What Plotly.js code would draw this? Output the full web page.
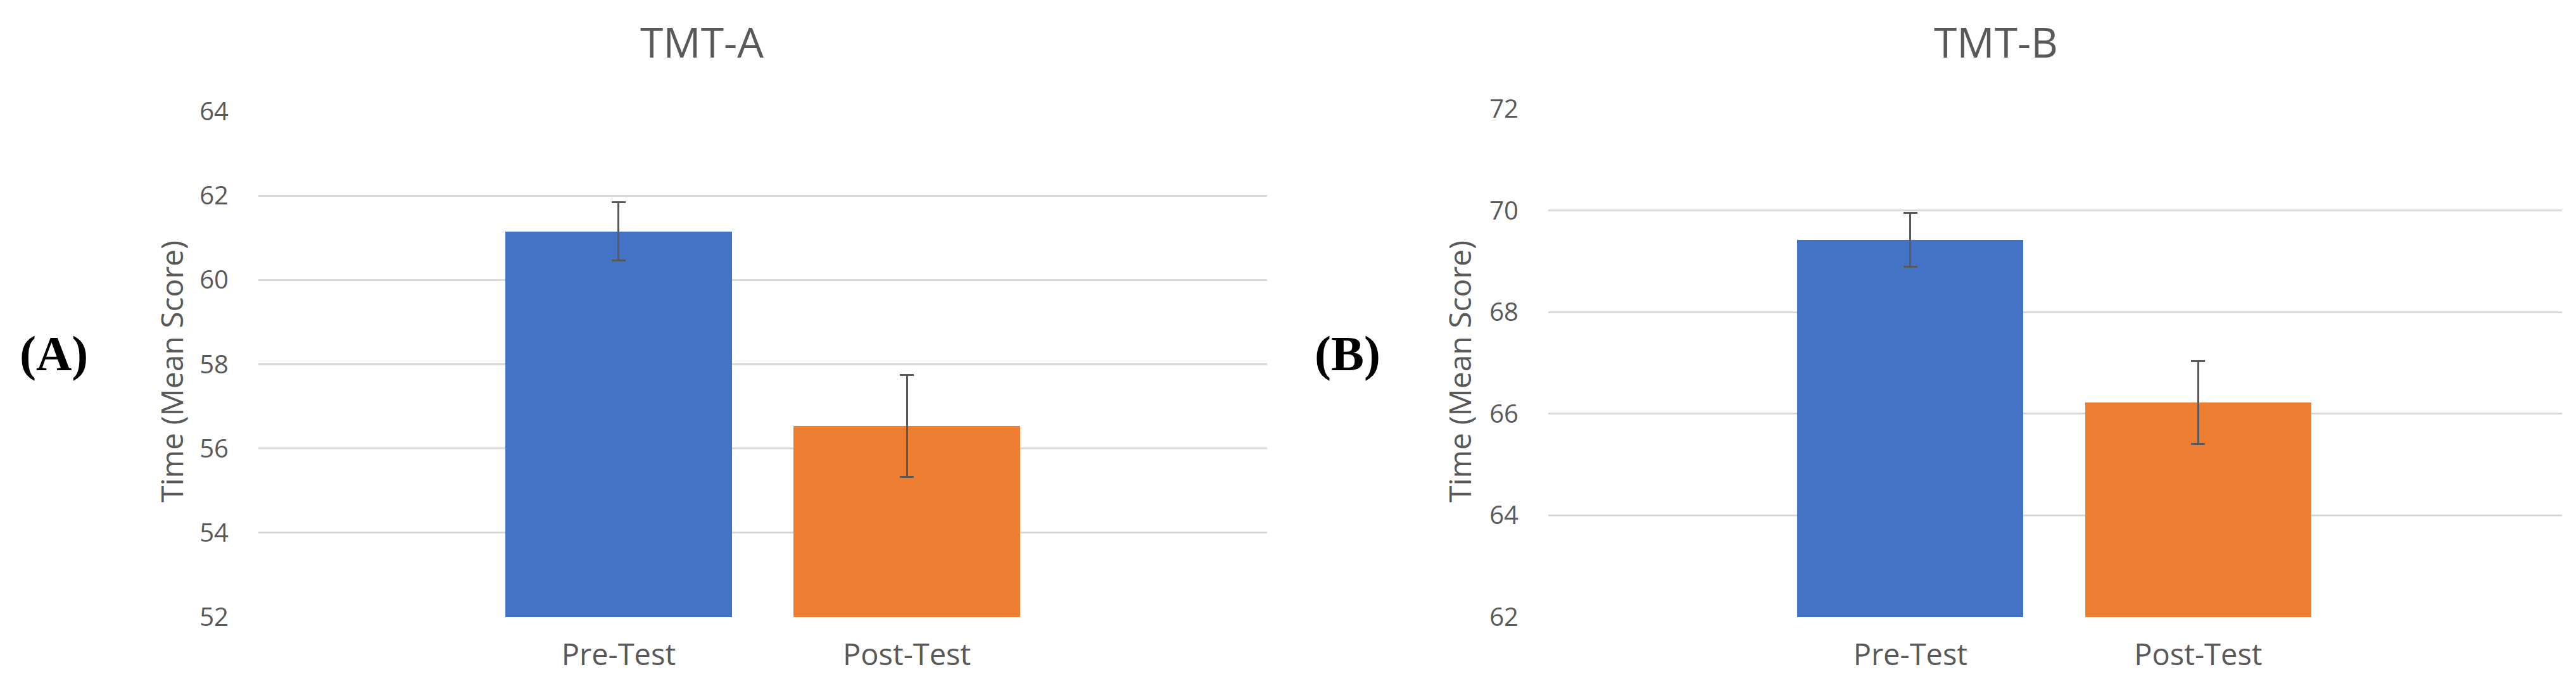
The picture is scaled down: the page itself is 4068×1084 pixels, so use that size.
<!DOCTYPE html>
<html>
<head>
<meta charset="utf-8">
<script src="https://cdn.plot.ly/plotly-3.0.1.min.js"></script>
<style>html,body{margin:0;padding:0;background:#fff;}#chart{width:4068px;height:1084px;}</style>
</head>
<body>
<div id="chart"></div>
<script>
const categories = ["Pre-Test", "Post-Test"];
const tmtAValues = [61.15, 56.53];
const tmtAErrors = [0.69, 1.21];
const tmtBValues = [69.42, 66.22];
const tmtBErrors = [0.53, 0.82];
const barColors = ["#4472C4", "#ED7D31"];
const panelTitles = ["TMT-A", "TMT-B"];
const panelLabels = ["(A)", "(B)"];
const yTitle = "Time (Mean Score)";
const tmtATicks = [52, 54, 56, 58, 60, 62, 64];
const tmtBTicks = [62, 64, 66, 68, 70, 72];

const W = 4068, H = 1084;
const textColor = "#595959";
const font = "Open Sans, sans-serif";

function barTrace(vals, errs, xa, ya) {
  return {
    type: "bar", x: categories, y: vals, xaxis: xa, yaxis: ya,
    width: 0.785,
    marker: {color: barColors, line: {width: 0}},
    error_y: {type: "data", array: errs, visible: true, color: "#595959", thickness: 3, width: 11},
    showlegend: false, hoverinfo: "skip"
  };
}

const traces = [
  barTrace(tmtAValues, tmtAErrors, "x", "y"),
  barTrace(tmtBValues, tmtBErrors, "x2", "y2")
];

function yAxis(range, ticks, anchor, domain) {
  return {
    range: range, tickvals: ticks, domain: domain, anchor: anchor,
    showgrid: true, gridcolor: "#d9d9d9", gridwidth: 3,
    zeroline: false, showline: false, ticks: "",
    ticklabelstandoff: 46,
    tickfont: {family: font, size: 40, color: textColor}
  };
}
function xAxis(range, domain, anchor) {
  return {
    type: "category", range: range, domain: domain, anchor: anchor,
    showgrid: false, zeroline: false, showline: false, ticks: "",
    ticklabelstandoff: 28,
    tickfont: {family: font, size: 47, color: textColor}
  };
}

const yDomA = [(H - 975) / H, (H - 176) / H];
const yDomB = [(H - 975) / H, (H - 172) / H];

const layout = {
  width: W, height: H,
  margin: {l: 0, r: 0, t: 0, b: 0},
  paper_bgcolor: "#fff", plot_bgcolor: "#fff",
  bargap: 0,
  xaxis: xAxis([-1.25, 2.25], [408 / W, 2001 / W], "y"),
  yaxis: yAxis([52, 64], tmtATicks, "x", yDomA),
  xaxis2: xAxis([-1.258, 2.264], [2445 / W, 4046 / W], "y2"),
  yaxis2: yAxis([62, 72], tmtBTicks, "x2", yDomB),
  annotations: [
    {text: panelTitles[0], x: 1108 / W, y: 1 - 65 / H, xref: "paper", yref: "paper", xanchor: "center", yanchor: "middle", showarrow: false, font: {family: font, size: 66, color: textColor}},
    {text: panelTitles[1], x: 3152 / W, y: 1 - 65 / H, xref: "paper", yref: "paper", xanchor: "center", yanchor: "middle", showarrow: false, font: {family: font, size: 66, color: textColor}},
    {text: yTitle, x: 270 / W, y: 1 - 587 / H, xref: "paper", yref: "paper", xanchor: "center", yanchor: "middle", textangle: -90, showarrow: false, font: {family: font, size: 48, color: textColor}},
    {text: yTitle, x: 2304 / W, y: 1 - 587 / H, xref: "paper", yref: "paper", xanchor: "center", yanchor: "middle", textangle: -90, showarrow: false, font: {family: font, size: 48, color: textColor}},
    {text: "<b>" + panelLabels[0] + "</b>", x: 85 / W, y: 1 - 558 / H, xref: "paper", yref: "paper", xanchor: "center", yanchor: "middle", showarrow: false, font: {family: "Liberation Serif, Times New Roman, serif", size: 78, color: "#000"}},
    {text: "<b>" + panelLabels[1] + "</b>", x: 2128 / W, y: 1 - 558 / H, xref: "paper", yref: "paper", xanchor: "center", yanchor: "middle", showarrow: false, font: {family: "Liberation Serif, Times New Roman, serif", size: 78, color: "#000"}}
  ]
};

Plotly.newPlot("chart", traces, layout, {staticPlot: true, displayModeBar: false});
</script>
</body>
</html>
